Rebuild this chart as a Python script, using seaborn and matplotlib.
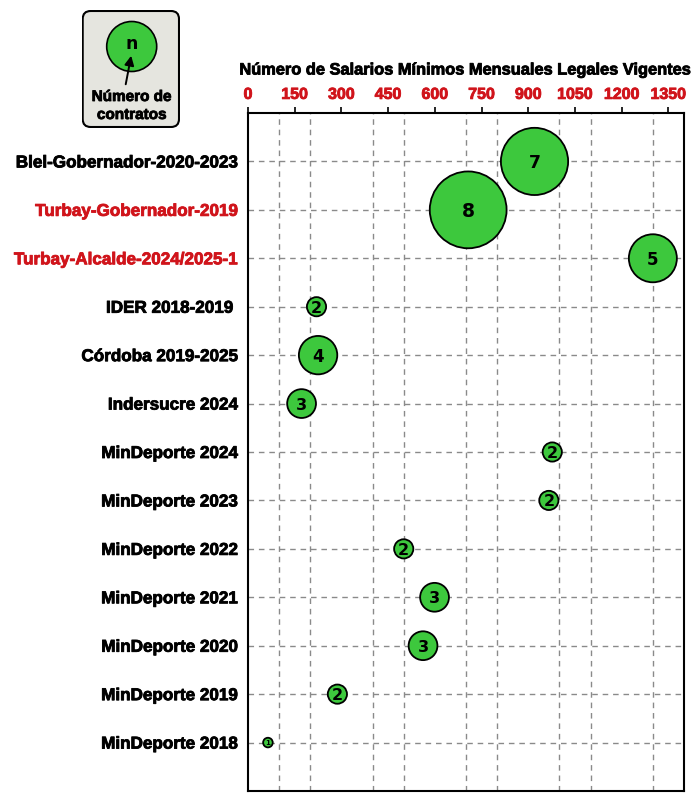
import matplotlib
matplotlib.use("Agg")
import matplotlib.pyplot as plt
import matplotlib.patheffects as pe
import seaborn as sns
import pandas as pd
from matplotlib.patches import FancyBboxPatch, Circle
from matplotlib.ticker import FixedLocator

# %% data
entidades = ["Blel-Gobernador-2020-2023", "Turbay-Gobernador-2019",
             "Turbay-Alcalde-2024/2025-1", "IDER 2018-2019 ",
             "Córdoba 2019-2025", "Indersucre 2024",
             "MinDeporte 2024", "MinDeporte 2023", "MinDeporte 2022",
             "MinDeporte 2021", "MinDeporte 2020", "MinDeporte 2019",
             "MinDeporte 2018"]
smmlv = [920, 707, 1300, 220, 225, 172, 977, 966, 500, 599, 562, 287, 64]
contratos = [7, 8, 5, 2, 4, 3, 2, 2, 2, 3, 3, 2, 1]
resaltadas = ["Turbay-Gobernador-2019", "Turbay-Alcalde-2024/2025-1"]
xticks = list(range(0, 1351, 150))

df = pd.DataFrame({"entidad": entidades, "smmlv": smmlv, "n": contratos})
df["area"] = df["n"] ** 2

verde = "#3dc83d"
rojo = "#d0141b"
num_fs = {1: 5, 2: 11.5, 3: 11.5, 4: 12, 5: 12, 7: 12.5, 8: 13.5}


def grueso(color):
    # thicken the glyphs a little, the original text is heavier than Liberation bold
    return [pe.withStroke(linewidth=0.6, foreground=color)]


# %%
sns.set_style("white")
plt.rcParams["font.family"] = ["Liberation Sans", "DejaVu Sans"]
plt.rcParams["text.color"] = "black"
plt.rcParams["axes.labelcolor"] = "black"
plt.rcParams["xtick.color"] = "black"
plt.rcParams["ytick.color"] = "black"

fig = plt.figure(figsize=(7, 8.09), dpi=100)
ax = fig.add_axes([248 / 700, 1 - 791 / 809, 436 / 700, 678 / 809])

sns.scatterplot(data=df, x="smmlv", y="entidad", size="area",
                sizes=(47.8, 47.8 * 64), size_norm=(1, 64),
                color=verde, edgecolor="black", linewidth=1.3,
                alpha=1, legend=False, zorder=3, ax=ax)

for _, r in df.iterrows():
    ax.text(r["smmlv"], r["entidad"], str(r["n"]), ha="center",
            va="center_baseline", fontsize=num_fs[r["n"]], fontweight="bold",
            family="DejaVu Sans", color="black", zorder=4)

ax.set_xlim(0, 1400)
ax.set_ylim(len(entidades), -1)

ax.xaxis.tick_top()
ax.set_xticks(xticks)
ax.set_xticklabels([str(v) for v in xticks], color=rojo, fontweight="bold",
                   fontsize=11.5)
for lab in ax.get_xticklabels():
    lab.set_path_effects(grueso(rojo))
ax.xaxis.set_minor_locator(FixedLocator(range(100, 1400, 100)))
ax.tick_params(axis="x", which="major", direction="out", length=4, width=1.2, pad=4)
ax.tick_params(axis="x", which="minor", length=0)

ax.set_yticks(range(len(entidades)))
ax.set_yticklabels(entidades, fontweight="bold", fontsize=12.3)
for lab in ax.get_yticklabels():
    c = rojo if lab.get_text() in resaltadas else "black"
    lab.set_color(c)
    lab.set_path_effects(grueso(c))
ax.yaxis.set_minor_locator(FixedLocator([6.5, 9.5, 12.5]))
ax.tick_params(axis="y", which="both", direction="out", length=5, width=1.2, pad=2)
ax.set_xlabel("")
ax.set_ylabel("")

ax.grid(axis="x", which="minor", color="#8a8a8a", linestyle=(0, (4, 3.5)), linewidth=1)
ax.grid(axis="y", which="major", color="#8a8a8a", linestyle=(0, (4, 3.5)), linewidth=1)
ax.set_axisbelow(True)
for s in ax.spines.values():
    s.set_linewidth(1.5)
    s.set_color("black")

fig.text(464 / 700, 1 - 70 / 809,
         "Número de Salarios Mínimos Mensuales Legales Vigentes",
         ha="center", va="center", fontsize=11.8, fontweight="bold",
         path_effects=grueso("black"))

# %% legend box
lg = fig.add_axes([81.7 / 700, 1 - 128 / 809, 98.3 / 700, 118 / 809])
lg.set_xlim(0, 98.3)
lg.set_ylim(0, 118)
lg.axis("off")
lg.add_patch(FancyBboxPatch((1, 1), 96.3, 116, boxstyle="round,pad=0,rounding_size=8",
                            facecolor="#e5e5df", edgecolor="black", linewidth=1.5))
lg.add_patch(Circle((50, 81.5), 25, facecolor=verde, edgecolor="black", linewidth=1.2))
lg.text(50, 84, "n", ha="center", va="center", fontsize=12.5, fontweight="bold",
        family="DejaVu Sans")
lg.annotate("", xy=(50, 75), xytext=(43.5, 41),
            arrowprops=dict(arrowstyle="-|>", color="black", linewidth=1.4,
                            mutation_scale=14))
lg.text(50, 31, "Número de", ha="center", va="center", fontsize=11, fontweight="bold",
        path_effects=grueso("black"))
lg.text(50, 13, "contratos", ha="center", va="center", fontsize=11, fontweight="bold",
        path_effects=grueso("black"))

fig.savefig("out.png", dpi=100)
